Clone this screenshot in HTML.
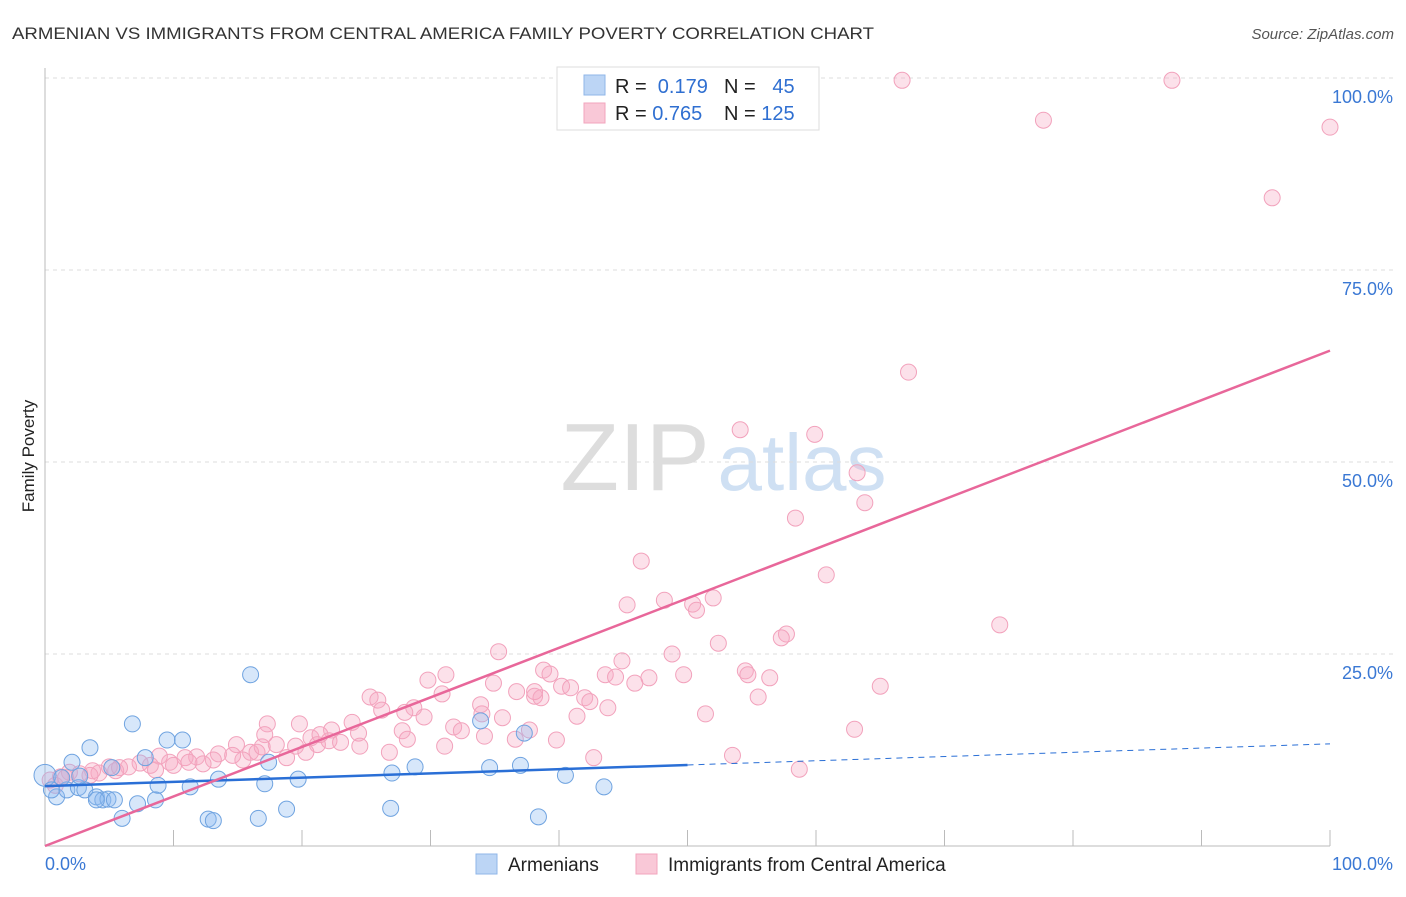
<!DOCTYPE html>
<html><head><meta charset="utf-8"><style>
body{margin:0;background:#fff;font-family:"Liberation Sans",sans-serif;}
svg text{font-family:"Liberation Sans",sans-serif;}
</style></head><body>
<svg id="chart" width="1406" height="892">
<text x="12" y="39" font-size="17" fill="#333" textLength="862" lengthAdjust="spacingAndGlyphs">ARMENIAN VS IMMIGRANTS FROM CENTRAL AMERICA FAMILY POVERTY CORRELATION CHART</text>
<text x="1394" y="39" font-size="15" fill="#555" font-style="italic" text-anchor="end">Source: ZipAtlas.com</text>
<text x="34" y="456" font-size="17" fill="#222" text-anchor="middle" transform="rotate(-90 34 456)">Family Poverty</text>
<g>
<text x="635" y="490" font-size="96" fill="#ddd" font-family="Liberation Serif" text-anchor="middle">ZIP</text>
<text x="802" y="490" font-size="80" fill="#cfe0f3" text-anchor="middle">atlas</text>
</g>
<g id="grid"></g><g id="axes"></g><g id="pts"></g><g id="lines"></g>
<g>
<rect x="557" y="67" width="262" height="63" fill="#fff" stroke="#ddd"/>
<rect x="584" y="75" width="21" height="20" fill="#bcd5f5" stroke="#8fb6e8"/>
<rect x="584" y="103" width="21" height="20" fill="#f9c8d7" stroke="#f2a5bd"/>
<text x="615" y="93" font-size="20" fill="#222">R = <tspan fill="#2f6fd1">&#160;0.179</tspan></text>
<text x="724" y="93" font-size="20" fill="#222">N = <tspan fill="#2f6fd1">&#160;&#160;45</tspan></text>
<text x="615" y="120" font-size="20" fill="#222">R = <tspan fill="#2f6fd1">0.765</tspan></text>
<text x="724" y="120" font-size="20" fill="#222">N = <tspan fill="#2f6fd1">125</tspan></text>
</g>
<g>
<rect x="476" y="854" width="21" height="20" fill="#bcd5f5" stroke="#8fb6e8"/>
<text x="508" y="871" font-size="19" fill="#222">Armenians</text>
<rect x="636" y="854" width="21" height="20" fill="#f9c8d7" stroke="#f2a5bd"/>
<text x="668" y="871" font-size="19" fill="#222">Immigrants from Central America</text>
</g>
</svg>
<script>
const yTicks=[25,50,75,100];
const yTickLabels=["25.0%","50.0%","75.0%","100.0%"];
const xTickLabels=["0.0%","100.0%"];
const blueTrend=[7.8,13.3];
const pinkTrend=[0,64.5];
const blueX=[0,0.9,1.7,2.1,1.3,2.6,3.1,3.5,4.0,4.5,4.9,5.4,5.2,6.8,7.8,7.2,6.0,8.8,9.5,10.7,8.6,11.3,13.5,12.7,13.1,16.0,17.4,17.1,16.6,18.8,19.7,27.0,28.8,26.9,33.9,34.6,37.0,37.3,38.4,40.5,43.5,0.5,4.0,2.7];
const blueY=[9.2,6.4,7.3,10.9,8.9,7.6,7.3,12.8,6.4,6.0,6.1,6.0,10.2,15.9,11.5,5.5,3.6,7.9,13.8,13.8,6.0,7.7,8.7,3.5,3.3,22.3,10.9,8.1,3.6,4.8,8.7,9.5,10.3,4.9,16.3,10.2,10.5,14.7,3.8,9.2,7.7,7.3,6.0,9.1];
const pinkX=[66.7,87.7,77.7,100,95.5,67.2,54.1,59.9,63.2,63.8,58.4,46.4,60.8,45.3,48.2,50.4,50.7,52.0,74.3,57.7,52.4,57.3,35.3,48.8,44.9,38.8,39.3,43.6,44.4,47.0,45.9,54.5,49.7,54.7,56.4,65.0,29.8,31.2,34.9,40.2,40.9,36.7,38.1,42.0,42.4,25.3,25.9,30.9,33.9,28.7,28.0,26.2,29.5,43.8,41.4,38.6,38.1,35.6,34.0,51.4,55.5,17.3,19.8,23.9,24.4,22.3,31.8,32.4,27.8,28.2,36.6,37.7,17.1,20.7,22.1,21.2,18.0,18.8,14.9,16.0,13.5,13.1,11.8,10.9,9.7,8.9,8.2,7.4,6.5,5.5,5.0,4.2,3.7,2.7,1.9,1.2,0.4,0.8,10.0,12.3,15.4,14.6,16.5,11.2,24.5,26.8,39.8,42.7,63.0,53.5,58.7,34.2,31.1,23.0,5.8,8.6,3.5,1.6,16.9,19.5,20.3,21.4];
const pinkY=[99.7,99.7,94.5,93.6,84.4,61.7,54.2,53.6,48.6,44.7,42.7,37.1,35.3,31.4,32.0,31.5,30.7,32.3,28.8,27.6,26.4,27.1,25.3,25.0,24.1,22.9,22.4,22.3,22.0,21.9,21.2,22.8,22.3,22.3,21.9,20.8,21.6,22.3,21.2,20.8,20.6,20.1,19.5,19.3,18.8,19.4,19.0,19.8,18.4,18.0,17.4,17.7,16.8,18.0,16.9,19.3,20.1,16.7,17.2,17.2,19.4,15.9,15.9,16.1,14.7,15.1,15.5,15.0,15.0,13.9,13.9,15.1,14.5,14.1,13.7,13.2,13.2,11.5,13.2,12.2,12.0,11.2,11.6,11.5,10.9,11.7,10.5,10.8,10.3,9.8,10.3,9.5,9.8,9.4,9.6,9.0,8.6,7.9,10.5,10.7,11.2,11.8,12.2,10.9,13.0,12.2,13.8,11.5,15.2,11.8,10.0,14.3,13.0,13.5,10.2,9.9,9.2,8.9,12.9,13.0,12.2,14.5];

const X0=45,X1=1330,Y0=846,Y100=78;
const sx=v=>X0+(X1-X0)*v/100;
const sy=v=>Y0-(Y0-Y100)*v/100;
const NS="http://www.w3.org/2000/svg";
function mk(tag,attrs,parent){const e=document.createElementNS(NS,tag);for(const k in attrs)e.setAttribute(k,attrs[k]);parent.appendChild(e);return e;}
const grid=document.getElementById('grid'),axes=document.getElementById('axes'),pts=document.getElementById('pts'),lines=document.getElementById('lines');
yTicks.forEach((t,i)=>{
  const l=mk('line',{x1:X0,x2:1394,y1:sy(t),y2:sy(t),stroke:'#ddd','stroke-dasharray':'4,4'},grid);
  
  
  const tx=mk('text',{x:1393,y:sy(t)+25,'font-size':18,fill:'#3a78d4','text-anchor':'end'},axes);
  tx.textContent=yTickLabels[i];
  
  
});
const yl=mk('line',{x1:X0,x2:X0,y1:68,y2:Y0,stroke:'#bbb'},axes);


const xl=mk('line',{x1:X0,x2:X1,y1:Y0,y2:Y0,stroke:'#bbb'},axes);


for(let i=0;i<=10;i++){
  const tk=mk('line',{x1:sx(i*10),x2:sx(i*10),y1:830,y2:Y0,stroke:'#bbb'},axes);
  
  
}
[[0,'start',X0],[1,'end',1393]].forEach(([i,a,x])=>{
  const tx=mk('text',{x:x,y:870,'font-size':18,fill:'#3a78d4','text-anchor':a},axes);
  tx.textContent=xTickLabels[i];
  
  
});
pinkX.forEach((x,i)=>{
  const c=mk('circle',{cx:sx(x),cy:sy(pinkY[i]),r:8,fill:'rgba(246,170,196,0.35)',stroke:'#f2a2bc','stroke-width':1},pts);
  
  
});
blueX.forEach((x,i)=>{
  const c=mk('circle',{cx:sx(x),cy:sy(blueY[i]),r:i===0?11:8,fill:'rgba(140,185,240,0.35)',stroke:'#6fa3e0','stroke-width':1},pts);
  
  
});
const bAt=v=>blueTrend[0]+(blueTrend[1]-blueTrend[0])*v/100;
const b1=mk('line',{x1:sx(0),y1:sy(bAt(0)),x2:sx(50),y2:sy(bAt(50)),stroke:'#2a6fd6','stroke-width':2.5},lines);


const b2=mk('line',{x1:sx(50),y1:sy(bAt(50)),x2:sx(100),y2:sy(bAt(100)),stroke:'#2a6fd6','stroke-width':1,'stroke-dasharray':'6,5'},lines);


const p1=mk('line',{x1:sx(0),y1:sy(pinkTrend[0]),x2:sx(100),y2:sy(pinkTrend[1]),stroke:'#e8679a','stroke-width':2.5},lines);


</script>
</body></html>
